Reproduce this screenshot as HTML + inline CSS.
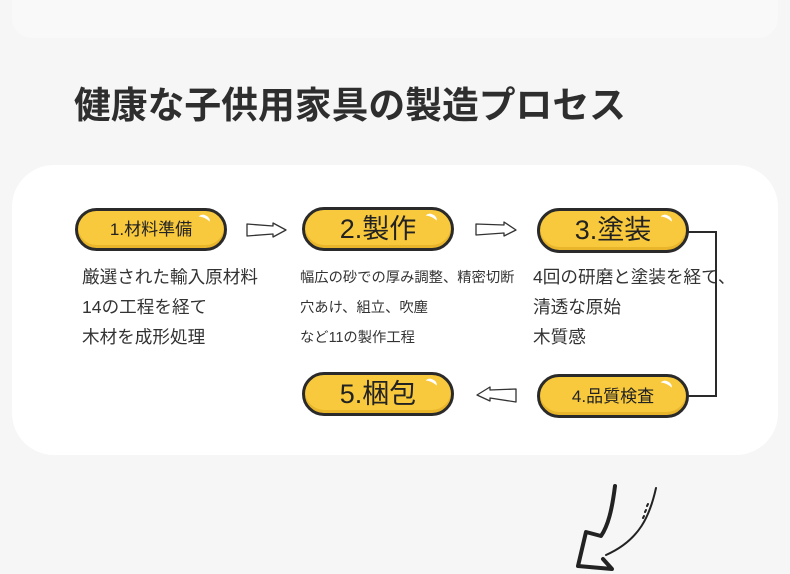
<!DOCTYPE html>
<html><head><meta charset="utf-8"><style>
body{margin:0;width:790px;height:574px;background:#f6f6f6;position:relative;overflow:hidden;font-family:"Liberation Sans","Noto Sans CJK JP",sans-serif;color:#333}
.top{position:absolute;left:12px;top:-20px;width:766px;height:58px;background:#f9f9f9;border-radius:20px}
.title{position:absolute;left:74px;top:75px;font-size:36.8px;font-weight:bold;color:#2e2e2e;letter-spacing:0px}
.card{position:absolute;left:12px;top:165px;width:766px;height:290px;background:#fff;border-radius:42px}
.pill{position:absolute;box-sizing:border-box;border:3px solid #2a2a2a;background:#f8c93c;border-radius:24px;text-align:center;color:#222;box-shadow:inset 0 -3px 0 #e9b52a}
.pill:after{content:"";position:absolute;right:14px;top:4px;width:12px;height:6px;border-top:3px solid #fff;border-radius:50%;transform:rotate(25deg)}
.t{position:absolute;font-size:17.6px;color:#333;white-space:nowrap}
.s{position:absolute;font-size:14.3px;color:#333;white-space:nowrap}
</style></head><body>
<div class="top"></div>
<div class="title">健康な子供用家具の製造プロセス</div>
<div class="card"></div>

<div class="pill" style="left:75px;top:208px;width:152px;height:43px;font-size:17px;line-height:37px">1.材料準備</div>
<div class="pill" style="left:302px;top:207px;width:152px;height:44px;font-size:27px;line-height:38px">2.製作</div>
<div class="pill" style="left:537px;top:208px;width:152px;height:45px;font-size:27px;line-height:39px">3.塗装</div>
<div class="pill" style="left:537px;top:374px;width:152px;height:44px;font-size:17px;line-height:40px">4.品質検査</div>
<div class="pill" style="left:302px;top:372px;width:152px;height:44px;font-size:27px;line-height:38px">5.梱包</div>

<div class="t" style="left:82px;top:264px">厳選された輸入原材料</div>
<div class="t" style="left:82px;top:294px">14の工程を経て</div>
<div class="t" style="left:82px;top:324px">木材を成形処理</div>
<div class="s" style="left:300px;top:266px">幅広の砂での厚み調整、精密切断</div>
<div class="s" style="left:300px;top:296px">穴あけ、組立、吹塵</div>
<div class="s" style="left:300px;top:326px">など11の製作工程</div>
<div class="t" style="left:533px;top:264px">4回の研磨と塗装を経て、</div>
<div class="t" style="left:533px;top:294px">清透な原始</div>
<div class="t" style="left:533px;top:324px">木質感</div>

<svg width="790" height="574" style="position:absolute;left:0;top:0">
<g fill="#fff" stroke="#333" stroke-width="1.3" stroke-linejoin="round">
<path d="M247 224 L273 226 L273 223 L286 230 L273 237 L273 234 L247 236 Z"/>
<path d="M476 224 L504 225 L504 222 L516 230 L504 236 L504 233 L476 235 Z"/>
<path d="M516 389 L490 390 L490 387 L477 395 L490 401 L490 398 L516 402 Z"/>
</g>
<path d="M688 232 H716 V396 H688" fill="none" stroke="#2a2a2a" stroke-width="2"/>
<g fill="none" stroke="#222" stroke-linecap="round" stroke-linejoin="round">
<path d="M615 486 C612 510 608 526 601 536 L586 532 L578 566 L612 569 L603 559" stroke-width="4"/>
<path d="M656 488 C650 515 640 540 606 555" stroke-width="2"/>
<path d="M648 504 L647 506 M646 510 L645 512 M644 516 L643 518" stroke-width="2"/>
</g>
</svg>
</body></html>
